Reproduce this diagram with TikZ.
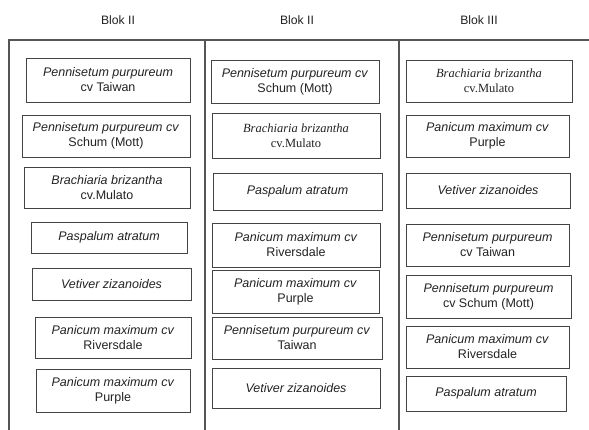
\documentclass[tikz,border=0pt]{standalone}
\usepackage{fontspec}
\setmainfont{Liberation Sans}
\newfontfamily\timesfont{Liberation Serif}
\usepackage{tikz}
\usetikzlibrary{positioning}
\usepackage{xcolor}
\definecolor{Ink}{HTML}{222222}
\definecolor{Rule}{HTML}{555555}
\definecolor{Edge}{HTML}{444444}

\begin{document}
\begin{tikzpicture}[
            x=1pt, y=-1pt,
            plotbox/.style={
                rectangle,
                draw=Edge,
                line width=0.9pt,
                inner sep=0pt,
                align=center,
                font=\fontsize{12.5}{15}\selectfont,
                text=Ink
            },
            header/.style={font=\fontsize{12.2}{14}\selectfont, text=Ink},
            frame/.style={draw=Rule, line width=1.3pt}
        ]
            \useasboundingbox (0,0) rectangle (589,430);

            % Block headers
            \node[header] (h1) at (118,20) {Blok II};
            \node[header] (h2) at (297,20) {Blok II};
            \node[header] (h3) at (479,20) {Blok III};

            % Frame and column rules
            \coordinate (tl) at (9,40);
            \coordinate (tr) at (589,40);
            \coordinate (bl) at (9,430);
            \coordinate (d1t) at (205,40);
            \coordinate (d1b) at (205,430);
            \coordinate (d2t) at (399,40);
            \coordinate (d2b) at (399,430);
            \draw[frame] (bl) -- (tl) -- (tr);
            \draw[frame] (d1t) -- (d1b);
            \draw[frame] (d2t) -- (d2b);

            % Column 1
            \node[plotbox, minimum width=164, minimum height=44] (k1r1) at (108,80) {\textit{Pennisetum purpureum}\\cv Taiwan};
            \node[plotbox, minimum width=168, minimum height=42] (k1r2) at (106,136) {\textit{Pennisetum purpureum cv}\\Schum (Mott)};
            \node[plotbox, minimum width=166, minimum height=41] (k1r3) at (107,187.5) {\textit{Brachiaria brizantha}\\cv.Mulato};
            \node[plotbox, minimum width=156, minimum height=31] (k1r4) at (109,237.5) {\textit{Paspalum atratum}};
            \node[plotbox, minimum width=159, minimum height=32] (k1r5) at (111.5,284) {\textit{Vetiver zizanoides}};
            \node[plotbox, minimum width=156, minimum height=41] (k1r6) at (113,337.5) {\textit{Panicum maximum cv}\\Riversdale};
            \node[plotbox, minimum width=154, minimum height=43] (k1r7) at (113,390.5) {\textit{Panicum maximum cv}\\Purple};

            % Column 2
            \node[plotbox, minimum width=168, minimum height=43] (k2r1) at (295,81.5) {\textit{Pennisetum purpureum cv}\\Schum (Mott)};
            \node[plotbox, minimum width=168, minimum height=45] (k2r2) at (296,135.5) {\timesfont\textit{Brachiaria brizantha}\\\timesfont cv.Mulato};
            \node[plotbox, minimum width=169, minimum height=37] (k2r3) at (297.5,191.5) {\textit{Paspalum atratum}};
            \node[plotbox, minimum width=168, minimum height=44] (k2r4) at (296,245) {\textit{Panicum maximum cv}\\Riversdale};
            \node[plotbox, minimum width=167, minimum height=43] (k2r5) at (295.5,291.5) {\textit{Panicum maximum cv}\\Purple};
            \node[plotbox, minimum width=170, minimum height=42] (k2r6) at (297,338) {\textit{Pennisetum purpureum cv}\\Taiwan};
            \node[plotbox, minimum width=168, minimum height=40] (k2r7) at (296,388) {\textit{Vetiver zizanoides}};

            % Column 3
            \node[plotbox, minimum width=166, minimum height=42] (k3r1) at (489,81) {\timesfont\textit{Brachiaria brizantha}\\\timesfont cv.Mulato};
            \node[plotbox, minimum width=163, minimum height=42] (k3r2) at (487.5,136) {\textit{Panicum maximum cv}\\Purple};
            \node[plotbox, minimum width=164, minimum height=35] (k3r3) at (488,190.5) {\textit{Vetiver zizanoides}};
            \node[plotbox, minimum width=163, minimum height=42] (k3r4) at (487.5,245) {\textit{Pennisetum purpureum}\\cv Taiwan};
            \node[plotbox, minimum width=165, minimum height=43] (k3r5) at (488.5,296.5) {\textit{Pennisetum purpureum}\\cv Schum (Mott)};
            \node[plotbox, minimum width=163, minimum height=42] (k3r6) at (487.5,347) {\textit{Panicum maximum cv}\\Riversdale};
            \node[plotbox, minimum width=160, minimum height=35] (k3r7) at (486,393.5) {\textit{Paspalum atratum}};
        \end{tikzpicture}
\end{document}
